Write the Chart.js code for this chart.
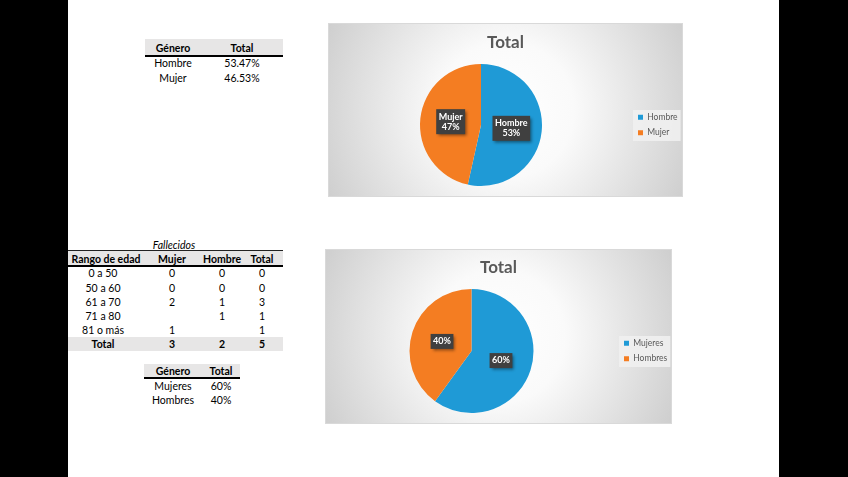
<!DOCTYPE html>
<html>
<head>
<meta charset="utf-8">
<script src="https://cdn.jsdelivr.net/npm/chart.js@4.4.0/dist/chart.umd.min.js"></script>
<style>
  body { margin:0; width:848px; height:477px; background:#000; position:relative; overflow:hidden; font-family: Lato, "Open Sans", sans-serif; }
  #sheet { position:absolute; left:68px; top:0; width:711px; height:477px; background:#fff; }
  .t { position:absolute; transform:translate(-50%,-50%); white-space:nowrap; font-size:10.5px; color:#000; line-height:1; }
  .b { font-weight:bold; }
  .i { font-style:italic; }
  .r { position:absolute; }
  canvas { position:absolute; }
</style>
</head>
<body>
<div id="sheet"></div>
<canvas id="pie1" width="355" height="174" style="left:328px;top:23px"></canvas>
<canvas id="pie2" width="347" height="175" style="left:325px;top:249px"></canvas>
<script>
// datos
const generoTotal = ['Hombre', 'Mujer'];
const pctTotal = [53.47, 46.53];

const rangos = ['0 a 50', '50 a 60', '61 a 70', '71 a 80', '81 o más'];
const fallMujer = [0, 0, 2, null, 1];
const fallHombre = [0, 0, 1, 1, null];
const fallTotal = [0, 0, 3, 1, 1];

const generoFall = ['Mujeres', 'Hombres'];
const pctFall = [60, 40];

const colores = ['#1F9AD6', '#F47D22'];

// helpers para las tablas
function txt(s, x, y, cls) {
  const d = document.createElement('div');
  d.className = 't ' + (cls || '');
  d.textContent = s;
  d.style.left = x + 'px';
  d.style.top = y + 'px';
  document.body.appendChild(d);
}
function fill(x, y, w, h, c) {
  const d = document.createElement('div');
  d.className = 'r';
  d.style.cssText += `left:${x}px;top:${y}px;width:${w}px;height:${h}px;background:${c}`;
  document.body.appendChild(d);
}
const show = v => (v === null ? '' : String(v));
const sum = a => a.reduce((s, v) => s + (v || 0), 0);

// tabla 1
fill(145, 39, 138, 16, '#e7e6e6');
fill(145, 55, 138, 2, '#000');
txt('Género', 173, 47.5, 'b');
txt('Total', 242, 47.5, 'b');
generoTotal.forEach((g, i) => {
  txt(g, 173, 63 + i * 14.5);
  txt(pctTotal[i].toFixed(2) + '%', 242, 63 + i * 14.5);
});

// tabla 2
const cx2 = [103, 172, 222, 262];
txt('Fallecidos', 174, 244.5, 'i');
fill(68, 250, 215, 1, '#222');
fill(68, 251, 215, 14, '#e7e6e6');
fill(68, 265, 215, 2, '#000');
['Rango de edad', 'Mujer', 'Hombre', 'Total'].forEach((h, k) => txt(h, k === 0 ? 106 : cx2[k], 258.5, 'b'));
rangos.forEach((r, i) => {
  const y = 273.3 + i * 14.2;
  txt(r, cx2[0], y);
  txt(show(fallMujer[i]), cx2[1], y);
  txt(show(fallHombre[i]), cx2[2], y);
  txt(show(fallTotal[i]), cx2[3], y);
});
fill(68, 337, 215, 14, '#e7e6e6');
txt('Total', cx2[0], 344, 'b');
txt(sum(fallMujer), cx2[1], 344, 'b');
txt(sum(fallHombre), cx2[2], 344, 'b');
txt(sum(fallTotal), cx2[3], 344, 'b');

// tabla 3
fill(144, 364, 96, 14, '#e7e6e6');
fill(144, 377, 96, 2, '#000');
txt('Género', 173, 371, 'b');
txt('Total', 221, 371, 'b');
generoFall.forEach((g, i) => {
  txt(g, 173, 386 + i * 13.5);
  txt(pctFall[i] + '%', 221, 386 + i * 13.5);
});

// graficos
Chart.defaults.font.family = 'Lato';

const fondo = {
  id: 'fondo',
  beforeDraw(chart) {
    const { ctx, width, height } = chart;
    const g = ctx.createRadialGradient(width / 2, height / 2, 0, width / 2, height / 2, width * 0.55);
    g.addColorStop(0, '#ffffff');
    g.addColorStop(0.35, '#fafafa');
    g.addColorStop(1, '#cfcfcf');
    ctx.save();
    ctx.fillStyle = g;
    ctx.fillRect(0, 0, width, height);
    ctx.strokeStyle = '#d9d9d9';
    ctx.lineWidth = 1;
    ctx.strokeRect(0.5, 0.5, width - 1, height - 1);
    const hb = chart.legend.legendHitBoxes;
    if (hb && hb.length) {
      const l = hb[0].left - 5, t = hb[0].top - 3;
      const r = Math.max(...hb.map(h => h.left + h.width)) + 3;
      const last = hb[hb.length - 1];
      const b = last.top + last.height + 4;
      ctx.fillStyle = 'rgba(240,240,240,0.9)';
      ctx.fillRect(l, t, r - l, b - t);
    }
    ctx.restore();
  }
};

const etiquetas = {
  id: 'etiquetas',
  afterDatasetsDraw(chart, args, opts) {
    const { ctx } = chart;
    const ds = chart.data.datasets[0];
    const total = ds.data.reduce((a, b) => a + b, 0);
    chart.getDatasetMeta(0).data.forEach((arc, i) => {
      const p = arc.tooltipPosition();
      const pct = Math.round(ds.data[i] / total * 100) + '%';
      const lines = opts.showName ? [chart.data.labels[i], pct] : [pct];
      ctx.save();
      ctx.font = 'bold 9px Lato';
      const w = Math.max(...lines.map(s => ctx.measureText(s).width)) + 5;
      const lh = 10;
      const h = lines.length * lh + 5;
      ctx.shadowColor = 'rgba(0,0,0,0.45)';
      ctx.shadowBlur = 3;
      ctx.shadowOffsetX = 2;
      ctx.shadowOffsetY = 2;
      ctx.fillStyle = '#404040';
      ctx.fillRect(p.x - w / 2, p.y - h / 2, w, h);
      ctx.shadowColor = 'transparent';
      ctx.fillStyle = '#fff';
      ctx.textAlign = 'center';
      ctx.textBaseline = 'middle';
      lines.forEach((s, k) => ctx.fillText(s, p.x, p.y - h / 2 + 2.5 + lh * (k + 0.5)));
      ctx.restore();
    });
  }
};

function pie(id, labels, data, legendW, pad, titlePad, showName) {
  return new Chart(document.getElementById(id), {
    type: 'pie',
    data: { labels, datasets: [{ data, backgroundColor: colores, borderWidth: 0 }] },
    options: {
      responsive: false,
      animation: false,
      events: [],
      layout: { padding: pad },
      plugins: {
        title: {
          display: true, text: 'Total', color: '#595959',
          font: { size: 17, weight: 'bold' }, padding: titlePad
        },
        legend: {
          position: 'right', fullSize: false, maxWidth: legendW,
          labels: { boxWidth: 5, boxHeight: 5, padding: 7, color: '#595959', font: { size: 8.5 } }
        },
        tooltip: { enabled: false },
        etiquetas: { showName }
      }
    },
    plugins: [fondo, etiquetas]
  });
}

pie('pie1', generoTotal, pctTotal, 49, { left: 3, right: 3, top: 3, bottom: 11 }, { top: 6.3, bottom: 11.3 }, true);
pie('pie2', generoFall, pctFall, 54, { left: 1, right: 1, top: 1, bottom: 11 }, { top: 7.3, bottom: 11.3 }, false);
</script>
</body>
</html>
